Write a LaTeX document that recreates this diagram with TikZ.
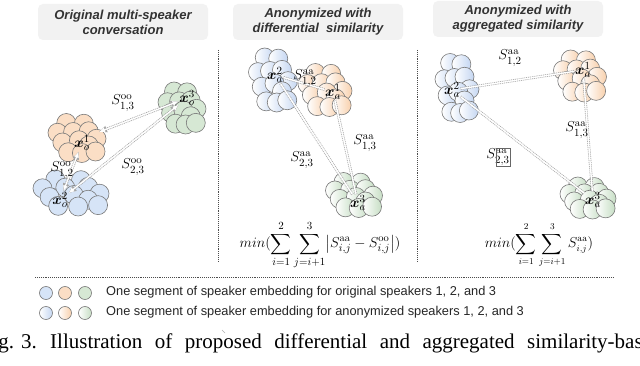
\documentclass[tikz,border=0pt]{standalone}
\usepackage{amsmath,bm}
\usepackage{fontspec}
\newfontfamily\sansf{Liberation Sans}
\newfontfamily\serf{Liberation Serif}
\usetikzlibrary{arrows.meta}
\definecolor{blueO}{RGB}{214,228,247}
\definecolor{orgO}{RGB}{251,222,197}
\definecolor{grnO}{RGB}{214,232,212}
\definecolor{blueA}{RGB}{196,214,242}
\definecolor{orgA}{RGB}{248,208,172}
\definecolor{grnA}{RGB}{198,222,196}
\definecolor{edgeC}{RGB}{120,120,120}
\definecolor{titleC}{RGB}{51,51,51}
\definecolor{boxC}{RGB}{242,242,242}
\pgfdeclarelayer{bg}
\pgfdeclarelayer{mid}
\pgfsetlayers{bg,mid,main}
\newcommand{\spk}[5]{%
  \foreach \u/\v in {-0.55/-1,0.35/-0.95,-1/-0.35,-0.2/-0.4,0.6/-0.45,1/0.05,-0.75/0.3,0.1/0.15,0.6/0.5,-0.45/0.95,0.25/1,0.95/0.9}{%
    \draw[#5] ({#1+#3*\u},{#2+#4*\v}) circle[radius=9.5pt];}}
\begin{document}
\begin{tikzpicture}[x=1pt,y=-1pt,
  titlebox/.style={fill=boxC, rounded corners=5pt, minimum width=170pt, minimum height=36pt, inner sep=0pt, align=center, font=\sansf\bfseries\itshape\fontsize{13}{15}\selectfont, text=titleC},
  sep/.style={draw=black!70, densely dotted, line width=0.9pt},
  ob/.style={draw=edgeC, line width=0.6pt, fill=blueO},
  oo/.style={draw=edgeC, line width=0.6pt, fill=orgO},
  og/.style={draw=edgeC, line width=0.6pt, fill=grnO},
  ab/.style={draw=edgeC, line width=0.6pt, left color=white, right color=blueA},
  ao/.style={draw=edgeC, line width=0.6pt, left color=white, right color=orgA},
  ag/.style={draw=edgeC, line width=0.6pt, left color=white, right color=grnA},
  conn/.style={draw=white, line width=1.3pt, preaction={draw=gray!70, line width=2.8pt, dash pattern=on 1pt off 0.9pt}},
  conna/.style={conn, {Latex[length=6pt,width=5pt]}-{Latex[length=6pt,width=5pt]},
     preaction={draw=gray!70, line width=0.8pt, {Latex[length=8pt,width=7pt]}-{Latex[length=8pt,width=7pt]}}},
  xl/.style={inner sep=0.5pt, font=\fontsize{15}{17}\selectfont},
  sl/.style={inner sep=0pt, font=\fontsize{15.5}{18}\selectfont},
  fml/.style={inner sep=0pt, font=\fontsize{15}{18}\selectfont},
  legtxt/.style={anchor=mid west, inner sep=0pt, font=\sansf\fontsize{12.8}{15}\selectfont, text=black!85},
]
\useasboundingbox (0,0) rectangle (640,366);
\begin{pgfonlayer}{bg}
\fill[white] (0,0) rectangle (640,366);
\end{pgfonlayer}

% titles
\node[titlebox] (t1) at (123,22) {Original multi-speaker\\conversation};
\node[titlebox] (t2) at (318,22) {Anonymized with\\differential\ \ similarity};
\node[titlebox] (t3) at (518,19) {Anonymized with\\aggregated similarity};

% separators
\draw[sep] (218,50) -- (218,262);
\draw[sep] (417,50) -- (417,262);
\draw[sep] (35,277) -- (613,277);

% clusters
\begin{pgfonlayer}{bg}
\spk{182}{108}{14.5}{16.5}{og}
\spk{71}{193}{28.5}{13.5}{ob}
\spk{77}{138}{19.5}{15}{oo}
\spk{273}{80}{15}{22.5}{ab}
\spk{325}{90}{17.5}{17}{ao}
\spk{354}{195}{19}{13}{ag}
\spk{457}{88}{12.5}{25}{ab}
\spk{580}{76}{17}{16.5}{ao}
\spk{588}{198}{18.5}{11.5}{ag}
\end{pgfonlayer}

% embedding labels
\node[xl] (o3) at (187,98) {$\bm{x}_o^3$};
\node[xl] (o1) at (82,143) {$\bm{x}_o^1$};
\node[xl] (o2) at (60,200) {$\bm{x}_o^2$};
\coordinate (o1e) at (99,132);
\node[xl] (a2) at (275,75) {$\bm{x}_a^2$};
\node[xl] (a1) at (333,92) {$\bm{x}_a^1$};
\node[xl] (a3) at (358,203) {$\bm{x}_a^3$};
\node[xl] (b2) at (452,90) {$\bm{x}_a^2$};
\node[xl] (b1) at (583,70) {$\bm{x}_a^1$};
\node[xl] (b3) at (593,200) {$\bm{x}_a^3$};

% similarity labels
\node[sl] (s13o) at (123,103) {$S^{\mathrm{oo}}_{1,3}$};
\node[sl] (s12o) at (62,170) {$S^{\mathrm{oo}}_{1,2}$};
\node[sl] (s23o) at (133,167) {$S^{\mathrm{oo}}_{2,3}$};
\node[sl] (s12a) at (305,78) {$S^{\mathrm{aa}}_{1,2}$};
\node[sl] (s13a) at (365,143) {$S^{\mathrm{aa}}_{1,3}$};
\node[sl] (s23a) at (302,160) {$S^{\mathrm{aa}}_{2,3}$};
\node[sl] (s12b) at (510,58) {$S^{\mathrm{aa}}_{1,2}$};
\node[sl] (s13b) at (577,130) {$S^{\mathrm{aa}}_{1,3}$};
\node[sl] (s23b) at (498,157) {$S^{\mathrm{aa}}_{2,3}$};
\draw[black!60, line width=0.4pt] ([xshift=-14pt,yshift=0pt]s23b.north east) rectangle ([xshift=0.5pt,yshift=-0.5pt]s23b.south east);

% connectors
\begin{pgfonlayer}{mid}
\draw[conna] (o1e) -- (o3);
\draw[conna] (o1) -- (o2);
\draw[conna] (o2) -- (o3);
\draw[conn] (a2) -- (a1);
\draw[conn] (a2) -- (a3);
\draw[conn] (a1) -- (a3);
\draw[conn] (b2) -- (b1);
\draw[conn] (b2) -- (b3);
\draw[conn] (b1) -- (b3);
\end{pgfonlayer}

% formulas
\node[fml] (f2) at (320,245) {$\displaystyle min(\sum_{i=1}^{2}\sum_{j=i+1}^{3}\bigl|S^{\mathrm{aa}}_{i,j}-S^{\mathrm{oo}}_{i,j}\bigr|)$};
\node[fml, font=\fontsize{13.5}{16}\selectfont] (f3) at (539,245) {$\displaystyle min(\sum_{i=1}^{2}\sum_{j=i+1}^{3}S^{\mathrm{aa}}_{i,j})$};

% legend
\draw[og, fill=blueO] (46,293) circle[radius=6.5pt];
\draw[og, fill=orgO] (65,293) circle[radius=6.5pt];
\draw[og, fill=grnO] (85,293) circle[radius=6.5pt];
\draw[ab] (46,313) circle[radius=6.5pt];
\draw[ao] (65,313) circle[radius=6.5pt];
\draw[ag] (85,313) circle[radius=6.5pt];
\node[legtxt] (l1) at (106,293) {One segment of speaker embedding for original speakers 1, 2, and 3};
\node[legtxt] (l2) at (106,313) {One segment of speaker embedding for anonymized speakers 1, 2, and 3};
\draw[gray!60, line width=0.5pt] (222,330) -- (225,333);

% caption
\node[anchor=base east, inner sep=0pt, font=\serf\fontsize{21}{25}\selectfont] (c0) at (37,348) {g. 3.};
\node[anchor=base west, inner sep=0pt, font=\serf\fontsize{21}{25}\selectfont] (c1) at (50,348) {\spaceskip=12.5pt Illustration of proposed differential and aggregated similarity-bas};
\end{tikzpicture}
\end{document}
